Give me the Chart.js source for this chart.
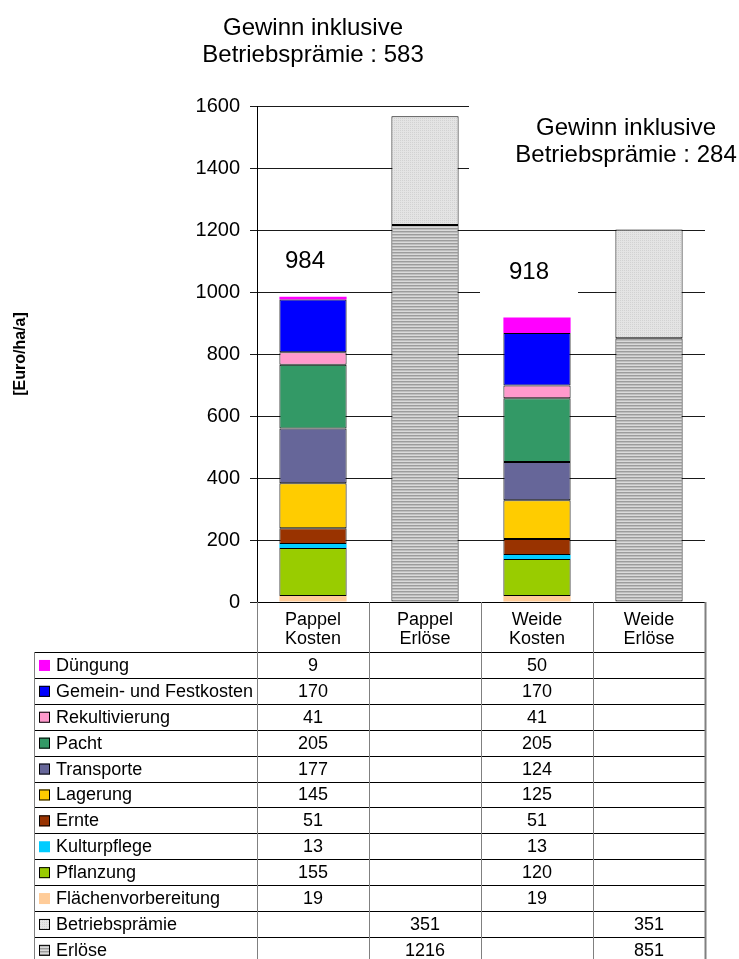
<!DOCTYPE html>
<html>
<head>
<meta charset="utf-8">
<script src="https://cdn.jsdelivr.net/npm/chart.js@4.4.1/dist/chart.umd.min.js"></script>
<style>
  html, body { margin: 0; padding: 0; background: #fff; }
  #wrap { width: 739px; height: 959px; position: relative; }
</style>
</head>
<body>
<div id="wrap"><canvas id="c"></canvas></div>
<script>
// Kategorien (Spalten) und Achsenteilung
const categories = [['Pappel', 'Kosten'], ['Pappel', 'Erlöse'], ['Weide', 'Kosten'], ['Weide', 'Erlöse']];
const yTicks = [0, 200, 400, 600, 800, 1000, 1200, 1400, 1600];

// Kostenpositionen in Euro/ha/a (Pappel Kosten, -, Weide Kosten, -)
const duengung             = [9,   null, 50,  null];
const gemeinFestkosten     = [170, null, 170, null];
const rekultivierung       = [41,  null, 41,  null];
const pacht                = [205, null, 205, null];
const transporte           = [177, null, 124, null];
const lagerung             = [145, null, 125, null];
const ernte                = [51,  null, 51,  null];
const kulturpflege         = [13,  null, 13,  null];
const pflanzung            = [155, null, 120, null];
const flaechenvorbereitung = [19,  null, 19,  null];

// Erlöse und Betriebsprämie (-, Pappel Erlöse, -, Weide Erlöse)
const betriebspraemie = [null, 351, null, 351];
const erloese         = [null, 1216, null, 851];

// ausgewiesene Kostensummen über den Kostensäulen
const kostenSumme = [984, null, 918, null];

const FONT = "'Liberation Sans', Arial, sans-serif";

// Schraffuren für Erlöse und Betriebsprämie
function stripePattern() {
  const c = document.createElement('canvas');
  c.width = 4; c.height = 3;
  const g = c.getContext('2d');
  g.fillStyle = '#dadada'; g.fillRect(0, 0, 4, 3);
  g.fillStyle = '#9c9c9c'; g.fillRect(0, 0, 4, 1);
  g.fillStyle = '#bebebe'; g.fillRect(0, 1, 4, 1);
  return c;
}
function dotPattern() {
  const c = document.createElement('canvas');
  c.width = 2; c.height = 2;
  const g = c.getContext('2d');
  g.fillStyle = '#e4e4e4'; g.fillRect(0, 0, 2, 2);
  g.fillStyle = '#d2d2d2'; g.fillRect(0, 0, 1, 1);
  return c;
}
const ctx = document.getElementById('c').getContext('2d');
const stripeFill = ctx.createPattern(stripePattern(), 'repeat');
const dotFill = ctx.createPattern(dotPattern(), 'repeat');

function ds(label, data, color, bordered) {
  return {
    label, data,
    backgroundColor: color,
    borderColor: bordered ? '#000' : color,
    borderWidth: bordered ? 1 : 0,
    borderSkipped: false,
    stack: 'a'
  };
}

// Reihenfolge von unten nach oben im Stapel
const datasets = [
  ds('Flächenvorbereitung', flaechenvorbereitung, '#FFCC99', false),
  ds('Pflanzung', pflanzung, '#99CC00', true),
  ds('Kulturpflege', kulturpflege, '#00CCFF', false),
  ds('Ernte', ernte, '#993300', true),
  ds('Lagerung', lagerung, '#FFCC00', true),
  ds('Transporte', transporte, '#666699', true),
  ds('Pacht', pacht, '#339966', true),
  ds('Rekultivierung', rekultivierung, '#FF99CC', true),
  ds('Gemein- und Festkosten', gemeinFestkosten, '#0000FF', true),
  ds('Düngung', duengung, '#FF00FF', false),
  ds('Erlöse', erloese, stripeFill, true),
  ds('Betriebsprämie', betriebspraemie, dotFill, true)
];

// Gewinn = Erlöse + Betriebsprämie - Kosten
function gewinn(costCol) {
  return erloese[costCol + 1] + betriebspraemie[costCol + 1] - kostenSumme[costCol];
}

const overlay = {
  id: 'overlay',
  afterDatasetsDraw(chart) {
    const g = chart.ctx, xs = chart.scales.x, ys = chart.scales.y;
    g.save();
    g.fillStyle = '#000';
    g.textAlign = 'center';
    g.textBaseline = 'middle';

    // Überschrift Pappel
    g.font = '24px ' + FONT;
    const cx1 = xs.getPixelForValue(0);
    g.fillText('Gewinn inklusive', cx1, 28);
    g.fillText('Betriebsprämie : ' + gewinn(0), cx1, 55);

    // Überschrift Weide mit weißem Hintergrund
    g.fillStyle = '#fff';
    g.fillRect(469, 98, 270, 78);
    g.fillStyle = '#000';
    g.fillText('Gewinn inklusive', 626, 128);
    g.fillText('Betriebsprämie : ' + gewinn(2), 626, 155);

    // Kostensummen
    const lift = [35, null, 45, null];
    kostenSumme.forEach((v, i) => {
      if (v == null) return;
      let top = 0;
      datasets.forEach(d => { if (d.data[i] != null) top += d.data[i]; });
      const px = xs.getPixelForValue(i) - 8;
      const py = ys.getPixelForValue(top) - lift[i];
      if (i === 2) {
        g.fillStyle = '#fff';
        g.fillRect(px - 49, py - 22, 98, 47);
        g.fillStyle = '#000';
      }
      g.font = '24px ' + FONT;
      g.fillText(String(v), px, py);
    });
    g.restore();
  },
  afterDraw(chart) {
    const g = chart.ctx, xs = chart.scales.x, area = chart.chartArea;
    const colW = (area.right - area.left) / categories.length;
    const left = 34, rowsTop = 652, rowH = 25.9;
    const order = [
      'Düngung', 'Gemein- und Festkosten', 'Rekultivierung', 'Pacht', 'Transporte',
      'Lagerung', 'Ernte', 'Kulturpflege', 'Pflanzung', 'Flächenvorbereitung',
      'Betriebsprämie', 'Erlöse'
    ].map(n => datasets.find(d => d.label === n));
    const bottom = rowsTop + order.length * rowH;

    g.save();
    // horizontale Linien
    g.strokeStyle = '#000';
    g.lineWidth = 1;
    for (let r = 0; r <= order.length; r++) {
      const yy = Math.round(rowsTop + r * rowH) + 0.5;
      g.beginPath(); g.moveTo(left, yy); g.lineTo(area.right, yy); g.stroke();
    }
    // senkrechte Linien
    g.strokeStyle = '#808080';
    g.beginPath(); g.moveTo(left + 0.5, rowsTop); g.lineTo(left + 0.5, bottom); g.stroke();
    for (let c = 0; c <= categories.length; c++) {
      const xx = Math.round(area.left + c * colW) + 0.5;
      g.lineWidth = c === categories.length ? 2 : 1;
      g.beginPath(); g.moveTo(xx, area.bottom); g.lineTo(xx, bottom); g.stroke();
    }

    g.font = '18px ' + FONT;
    g.textBaseline = 'middle';
    order.forEach((d, r) => {
      const cy = rowsTop + r * rowH + rowH / 2 + 1;
      // Legendensymbol
      g.fillStyle = d.backgroundColor;
      g.fillRect(39, cy - 6, 11, 11);
      if (d.borderWidth) {
        g.strokeStyle = '#000';
        g.lineWidth = 1;
        g.strokeRect(39.5, cy - 5.5, 10, 10);
      }
      g.fillStyle = '#000';
      g.textAlign = 'left';
      g.fillText(d.label, 56, cy);
      g.textAlign = 'center';
      d.data.forEach((v, i) => {
        if (v == null) return;
        g.fillText(String(v), xs.getPixelForValue(i), cy);
      });
    });
    g.restore();
  }
};

new Chart(ctx, {
  type: 'bar',
  data: { labels: categories, datasets },
  options: {
    responsive: true,
    maintainAspectRatio: false,
    animation: false,
    events: [],
    layout: { padding: { left: 0, right: 34, top: 106, bottom: 307 } },
    datasets: { bar: { barPercentage: 0.6, categoryPercentage: 1.0 } },
    plugins: { legend: { display: false }, tooltip: { enabled: false } },
    scales: {
      x: {
        stacked: true,
        grid: { display: false },
        border: { display: true, color: '#000', width: 1 },
        ticks: { color: '#000', font: { family: FONT, size: 18, lineHeight: 1.06 }, padding: 0, maxRotation: 0, autoSkip: false },
        afterFit(s) { s.height = 50; }
      },
      y: {
        stacked: true,
        min: 0, max: 1600,
        afterBuildTicks(s) { s.ticks = yTicks.map(v => ({ value: v })); },
        grid: { color: '#1a1a1a', lineWidth: 1, tickLength: 7, drawTicks: true },
        border: { display: true, color: '#000', width: 1 },
        ticks: { color: '#000', font: { family: FONT, size: 20 }, padding: 10, callback: v => String(v) },
        title: {
          display: true, text: '[Euro/ha/a]', color: '#000',
          font: { family: FONT, size: 16, weight: 'bold' },
          padding: { top: 11, bottom: 0 }
        },
        afterFit(s) { s.width = 257; }
      }
    }
  },
  plugins: [overlay]
});
</script>
</body>
</html>
